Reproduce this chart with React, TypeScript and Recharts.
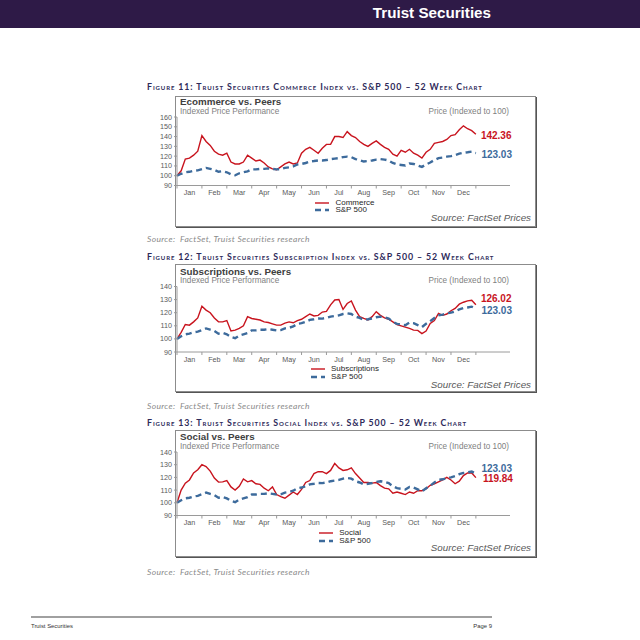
import React from 'react';
import { LineChart, Line, XAxis, YAxis, Legend } from 'recharts';

// month labels and tick positions (x axis is in months, 6 points per month)
const MONTHS = ['Jan', 'Feb', 'Mar', 'Apr', 'May', 'Jun', 'Jul', 'Aug', 'Sep', 'Oct', 'Nov', 'Dec'];
const MONTH_BOUNDS = [0, 1, 2, 3, 4, 5, 6, 7, 8, 9, 10, 11, 12];
const POINTS_PER_MONTH = 6;

const TICKS_160 = [90, 100, 110, 120, 130, 140, 150, 160];
const TICKS_140 = [90, 100, 110, 120, 130, 140];

const SP500 = [
  100, 102, 103.5, 104, 105, 105.5, 106.7, 108, 107, 106,
  104, 104.6, 103.5, 101.5, 100.5, 102.5, 103.5, 104.5, 106.5, 106.5,
  107, 107, 107.5, 107, 106.5, 106.7, 108, 108.5, 109.5, 111.5,
  112, 113, 114.5, 115, 115.6, 115.5, 116, 117, 117.5, 118,
  119, 119.5, 119, 117, 116, 114.5, 115, 115.6, 116.5, 117,
  116.5, 115.5, 113, 111.5, 111, 110.5, 112.5, 112, 110.5, 109,
  111.5, 113.5, 116, 118, 118.5, 119.5, 120, 121, 122.5, 123.5,
  124, 124.6, 123.03,
];

const COMMERCE = [
  100, 105, 117, 118, 121, 125, 141, 135, 131, 125,
  122, 121, 123, 114, 112, 112, 114, 121, 118, 115,
  116, 113, 109, 107, 106, 109, 112, 114, 112, 113,
  123, 127, 129, 126, 123, 128, 132, 132, 140, 140,
  139, 145, 141, 139, 135, 132, 130, 133, 135.5, 132,
  129, 127, 122, 120, 126, 124, 127, 123, 121, 118,
  124, 127, 133, 134, 135, 137, 141, 142, 147, 151,
  148, 146, 142.36,
];

const SUBSCRIPTIONS = [
  100, 105, 111, 110.5, 113, 116, 125, 122, 120, 116,
  113, 113, 114, 106, 106.7, 108, 110, 117, 115.6, 115,
  114.4, 113, 112.5, 111.5, 110.5, 110.5, 112, 113, 112.3, 114,
  115, 117, 119, 117.5, 118, 120.5, 121, 126, 129.7, 130,
  122.5, 127, 129, 122, 117, 115.6, 114.5, 117, 120.8, 118,
  116, 115, 113, 111, 110, 109, 108, 106.7, 106.5, 104,
  106, 111.8, 114, 119.5, 118, 119, 121.5, 123.3, 126.5, 128,
  129, 129.5, 126.02,
];

const SOCIAL = [
  100, 110, 115.5, 118, 123.5, 126, 130, 128.5, 125, 119.5,
  116.3, 116.5, 117.5, 112.5, 110, 113, 118.8, 116.5, 117.5, 115,
  114.5, 111.5, 109.5, 112.5, 106.5, 104.9, 103.6, 106, 108.5, 106.5,
  110.5, 116, 117.5, 123, 124.5, 124.5, 123, 125.5, 131, 127.5,
  125.5, 126, 127.5, 123, 119.5, 116, 116, 115.5, 116, 113.5,
  111.5, 111, 107.5, 108.5, 107.5, 106.5, 108.5, 107.5, 109.5, 109.5,
  111, 113.8, 115, 116.5, 118, 120, 118, 115, 117, 121.4,
  123.5, 123.5, 119.84,
];

const RED = '#c8141e';
const BLUE = '#3d6b9c';
const ARIAL = '"Liberation Sans", Arial, sans-serif';
const CALIBRI = 'Lato, "Open Sans", sans-serif';

const CHART_LEFT = 150;
const CHART_W = 390;
const Y_AXIS_W = 27;
const PLOT_W = 333;
const X_MAX = 13.37;
const MONTH_PX = PLOT_W / X_MAX;
const LAST = SP500.length - 1;

const CHARTS = [
  {
    fig: 'Figure 11: Truist Securities Commerce Index vs. S&P 500 – 52 Week Chart',
    title: 'Ecommerce vs. Peers', peerName: 'Commerce', peer: COMMERCE, ticks: TICKS_160,
    figY: 87.7, boxTop: 96, boxH: 132, titleY: 102, subY: 112, mTop: 21, mBottom: 30.5,
    legendTop: 102.7, srcY: 218, noteY: 239.5, peerDx: 5, peerDy: 1, spDx: 5.5, spDy: 1,
  },
  {
    fig: 'Figure 12: Truist Securities Subscription Index vs. S&P 500 – 52 Week Chart',
    title: 'Subscriptions vs. Peers', peerName: 'Subscriptions', peer: SUBSCRIPTIONS, ticks: TICKS_140,
    figY: 257.7, boxTop: 264, boxH: 129, titleY: 271.7, subY: 281.7, mTop: 22.5, mBottom: 29,
    legendTop: 101, srcY: 385, noteY: 406, peerDx: 5, peerDy: -6, spDx: 5.5, spDy: 1.5,
  },
  {
    fig: 'Figure 13: Truist Securities Social Index vs. S&P 500 – 52 Week Chart',
    title: 'Social vs. Peers', peerName: 'Social', peer: SOCIAL, ticks: TICKS_140,
    figY: 423.3, boxTop: 430, boxH: 128, titleY: 437.3, subY: 447.3, mTop: 22, mBottom: 30.5,
    legendTop: 99.3, srcY: 548.3, noteY: 572.7, peerDx: 7, peerDy: 0.5, spDx: 5.5, spDy: -5.5,
  },
];

const Txt = ({ x, y, size, right = false, style = {}, children }: any) => (
  <div
    style={{
      position: 'absolute',
      top: y - size * 0.52,
      ...(right ? { right: 640 - x } : { left: x }),
      fontSize: size,
      lineHeight: 1,
      whiteSpace: 'nowrap',
      ...style,
    }}
  >
    {children}
  </div>
);

const MonthTick = ({ x, y, payload }: any) => {
  const label = MONTHS[payload.value];
  if (!label) return <g />;
  return (
    <text x={x + MONTH_PX / 2} y={y + 2} textAnchor="middle" dominantBaseline="central"
      fontSize={7.2} fill="#595959" fontFamily={ARIAL}>
      {label}
    </text>
  );
};

const endLabel = (color: string, dx: number, dy: number) => (p: any) => {
  if (p.index !== LAST) return <g key={`d-${p.index}`} />;
  return (
    <text key={`d-${p.index}`} x={p.cx + dx} y={p.cy + dy} fill={color} fontSize={10}
      fontWeight="bold" dominantBaseline="central" fontFamily={ARIAL}>
      {Number(p.value).toFixed(2)}
    </text>
  );
};

const LegendBox = ({ payload }: any) => {
  const items = [...(payload || [])].sort((a, b) => (a.dataKey === 'peer' ? -1 : b.dataKey === 'peer' ? 1 : 0));
  return (
    <div style={{ fontFamily: ARIAL }}>
      {items.map((e: any) => (
        <div key={e.value} style={{ display: 'flex', alignItems: 'center', height: 7.8 }}>
          <svg width={14} height={6} style={{ display: 'block' }}>
            <line x1={0} y1={3} x2={14} y2={3} stroke={e.color}
              strokeWidth={e.payload?.strokeWidth ?? 1.5}
              strokeDasharray={e.payload?.strokeDasharray} />
          </svg>
          <span style={{ marginLeft: 6, fontSize: 8, lineHeight: 1, color: '#262626' }}>{e.value}</span>
        </div>
      ))}
    </div>
  );
};

const PeerChart = ({ c }: any) => {
  const rows = c.peer.map((v: number, i: number) => ({ m: i / POINTS_PER_MONTH, peer: v, sp: SP500[i] }));
  return (
    <>
      <Txt x={147} y={c.figY} size={8.8}
        style={{ fontFamily: CALIBRI, fontWeight: 700, fontVariant: 'small-caps', letterSpacing: 0.9, color: '#2e2a5a' }}>
        {c.fig}
      </Txt>
      <div style={{
        position: 'absolute', left: 175, top: c.boxTop, width: 361, height: c.boxH - 1,
        border: '1px solid #8c8c8c', boxShadow: '1px 1px 0 #555', boxSizing: 'border-box',
      }} />
      <Txt x={180} y={c.titleY} size={9.8} style={{ fontFamily: ARIAL, fontWeight: 700, color: '#404040' }}>
        {c.title}
      </Txt>
      <Txt x={180} y={c.subY} size={8.2} style={{ fontFamily: ARIAL, color: '#7f7f7f' }}>
        Indexed Price Performance
      </Txt>
      <Txt x={509} y={c.subY} size={8.2} right style={{ fontFamily: ARIAL, color: '#7f7f7f' }}>
        Price (Indexed to 100)
      </Txt>
      <div style={{ position: 'absolute', left: CHART_LEFT, top: c.boxTop }}>
        <LineChart width={CHART_W} height={c.boxH} data={rows}
          margin={{ top: c.mTop, right: CHART_W - Y_AXIS_W - PLOT_W, bottom: c.mBottom, left: 0 }}>
          <XAxis type="number" dataKey="m" domain={[0, X_MAX]} ticks={MONTH_BOUNDS} interval={0}
            height={12} tickSize={3} tickMargin={2} tick={<MonthTick />}
            stroke="#9a9a9a" tickLine={{ stroke: '#9a9a9a' }} />
          <YAxis type="number" domain={[c.ticks[0], c.ticks[c.ticks.length - 1]]} ticks={c.ticks}
            interval={0} width={Y_AXIS_W} tickSize={3} tickMargin={2}
            tick={{ fontSize: 7.2, fill: '#595959', fontFamily: ARIAL }}
            stroke="#9a9a9a" tickLine={{ stroke: '#9a9a9a' }} />
          <Legend layout="vertical" align="center" verticalAlign="middle" content={<LegendBox />}
            wrapperStyle={{ top: c.legendTop }} />
          <Line dataKey="peer" name={c.peerName} type="linear" stroke={RED} strokeWidth={1.4}
            dot={endLabel(RED, c.peerDx, c.peerDy)} activeDot={false} isAnimationActive={false} />
          <Line dataKey="sp" name="S&P 500" type="linear" stroke={BLUE} strokeWidth={2.4}
            strokeDasharray="6 4" dot={endLabel(BLUE, c.spDx, c.spDy)} activeDot={false}
            isAnimationActive={false} />
        </LineChart>
      </div>
      <Txt x={531} y={c.srcY} size={9.8} right style={{ fontFamily: ARIAL, fontStyle: 'italic', color: '#595959' }}>
        Source: FactSet Prices
      </Txt>
      <Txt x={147} y={c.noteY} size={8.5} style={{ fontFamily: CALIBRI, fontStyle: 'italic', letterSpacing: 0.35, color: '#8a8a8a' }}>
        Source:&nbsp; FactSet, Truist Securities research
      </Txt>
    </>
  );
};

export default function App() {
  return (
    <div style={{
      position: 'absolute', left: 0, top: 0, width: 640, height: 640,
      background: '#fff', overflow: 'hidden', fontFamily: ARIAL,
    }}>
      <div style={{ position: 'absolute', left: 0, top: 0, width: 640, height: 28, background: '#2e1a47' }} />
      <Txt x={491} y={13} size={15.2} right style={{ fontWeight: 700, color: '#fff' }}>
        Truist Securities
      </Txt>
      {CHARTS.map((c) => <PeerChart key={c.title} c={c} />)}
      <div style={{ position: 'absolute', left: 31, top: 616, width: 461, height: 1.5, background: '#a0a0a0' }} />
      <Txt x={31} y={627} size={5.9} style={{ color: '#333' }}>Truist Securities</Txt>
      <Txt x={492} y={627} size={5.9} right style={{ color: '#333' }}>Page 9</Txt>
    </div>
  );
}
